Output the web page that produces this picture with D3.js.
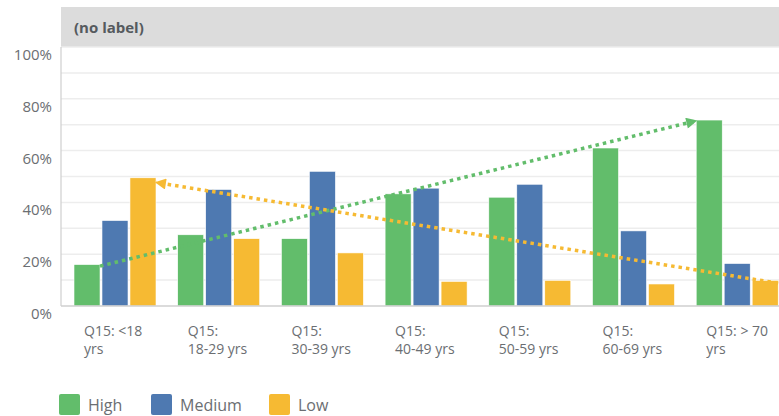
<!doctype html>
<html>
  <head>
    <style>
      body { margin: 0; background: #fff; }
      text { font-family: "Open Sans", sans-serif; }
    </style>
  </head>
  <body>
    <svg width="779" height="416" id="content"></svg>

    <script src="https://cdnjs.cloudflare.com/ajax/libs/d3/7.8.5/d3.min.js"></script>
    <script>
      const categories = [['Q15: <18', 'yrs'], ['Q15:', '18-29 yrs'], ['Q15:', '30-39 yrs'], ['Q15:', '40-49 yrs'],
        ['Q15:', '50-59 yrs'], ['Q15:', '60-69 yrs'], ['Q15: > 70', 'yrs']]
      const series = ['High', 'Medium', 'Low']
      const high = [16, 27.5, 26, 43.3, 42, 61, 71.8]
      const medium = [33, 45, 52, 45.5, 47, 29, 16.4]
      const low = [49.5, 26, 20.5, 9.5, 9.9, 8.5, 9.9]
      const yTicks = [0, 20, 40, 60, 80, 100]
      // trend arrows: [value at start, value at end]
      const highTrend = [15.4, 71.5]
      const lowTrend = [8.8, 47.7]

      const colors = { High: '#62bd6b', Medium: '#4e79b1', Low: '#f6ba33' }
      const values = { High: high, Medium: medium, Low: low }

      const svg = d3.select('#content')
      const plotLeft = 61
      const plotTop = 47
      const plotBottom = 306

      const y = d3.scaleLinear().domain([0, 100]).range([plotBottom, plotTop])
      const x0 = d3.scaleBand().domain(d3.range(categories.length)).range([plotLeft, plotLeft + 7 * 103.7])
      const x1 = d3.scaleBand().domain(series).range([13, 95]).paddingInner(0.07)

      // header
      svg.append('rect')
        .attr('x', plotLeft).attr('y', 7)
        .attr('width', 779 - plotLeft).attr('height', plotTop - 7)
        .style('fill', '#dcdcdc')
      svg.append('text')
        .attr('x', 74).attr('y', 27)
        .style('dominant-baseline', 'central')
        .style('font-size', '15px')
        .style('font-weight', 'bold')
        .style('fill', '#555a5e')
        .text('(no label)')

      // gridlines
      svg.append('g').selectAll('line')
        .data(d3.range(10, 101, 10))
        .enter().append('line')
        .attr('x1', plotLeft).attr('x2', 779)
        .attr('y1', d => y(d)).attr('y2', d => y(d))
        .style('stroke', '#ededed')
        .style('stroke-width', 1.5)

      // y axis labels
      svg.append('g').selectAll('text')
        .data(yTicks)
        .enter().append('text')
        .attr('x', 52).attr('y', d => y(d) + 7)
        .attr('text-anchor', 'end')
        .style('dominant-baseline', 'central')
        .style('font-size', '15px')
        .style('fill', '#6b6e72')
        .text(d => d + '%')

      // bars
      const groups = svg.append('g').selectAll('g')
        .data(categories)
        .enter().append('g')
        .attr('transform', (d, i) => `translate(${x0(i)},0)`)

      groups.selectAll('rect')
        .data((d, i) => series.map(s => ({ s, v: values[s][i] })))
        .enter().append('rect')
        .attr('x', d => x1(d.s))
        .attr('width', x1.bandwidth())
        .attr('y', d => y(d.v))
        .attr('height', d => plotBottom - y(d.v))
        .style('fill', d => colors[d.s])
        .style('stroke', '#fff')
        .style('stroke-width', 0.6)

      // axes lines
      svg.append('line')
        .attr('x1', plotLeft).attr('x2', plotLeft).attr('y1', plotTop).attr('y2', plotBottom)
        .style('stroke', '#cfcfcf').style('stroke-width', 1.2)
      svg.append('line')
        .attr('x1', plotLeft).attr('x2', 779).attr('y1', plotBottom).attr('y2', plotBottom)
        .style('stroke', '#cfcfcf').style('stroke-width', 1.5)

      // x labels
      const xl = svg.append('g').selectAll('text')
        .data(categories)
        .enter().append('text')
        .attr('x', (d, i) => x0(i) + 23)
        .attr('y', 331)
        .style('font-size', '14px')
        .style('fill', '#6b6e72')
      xl.selectAll('tspan')
        .data(d => d)
        .enter().append('tspan')
        .attr('x', function () { return d3.select(this.parentNode).attr('x') })
        .attr('dy', (d, i) => i === 0 ? '0.35em' : 18)
        .text(d => d)

      // trend arrows
      const defs = svg.append('defs')
      function marker (id, color) {
        defs.append('marker')
          .attr('id', id)
          .attr('viewBox', '0 0 10 10')
          .attr('refX', 9).attr('refY', 5)
          .attr('markerWidth', 14).attr('markerHeight', 11)
          .attr('markerUnits', 'userSpaceOnUse')
          .attr('orient', 'auto')
          .append('path')
          .attr('d', 'M0,0 L10,5 L0,10 Z')
          .style('fill', color)
      }
      marker('arrowGreen', colors.High)
      marker('arrowLow', colors.Low)

      const last = categories.length - 1
      svg.append('line')
        .attr('x1', x0(0) + x1('High') + x1.bandwidth())
        .attr('y1', y(highTrend[0]))
        .attr('x2', x0(last) + x1('High'))
        .attr('y2', y(highTrend[1]))
        .style('stroke', colors.High)
        .style('stroke-width', 3.5)
        .style('stroke-dasharray', '3.5,4')
        .attr('marker-end', 'url(#arrowGreen)')

      svg.append('line')
        .attr('x1', x0(last) + x1('Low') + x1.bandwidth())
        .attr('y1', y(lowTrend[0]))
        .attr('x2', x0(0) + x1('Low') + x1.bandwidth())
        .attr('y2', y(lowTrend[1]))
        .style('stroke', colors.Low)
        .style('stroke-width', 3.5)
        .style('stroke-dasharray', '3.5,4')
        .attr('marker-end', 'url(#arrowLow)')

      // legend
      const legend = svg.append('g').selectAll('g')
        .data(series)
        .enter().append('g')
        .attr('transform', (d, i) => `translate(${[59, 151, 269][i]},394)`)
      legend.append('rect')
        .attr('width', 21).attr('height', 21).attr('rx', 2)
        .style('fill', d => colors[d])
      legend.append('text')
        .attr('x', 29).attr('y', 11)
        .style('dominant-baseline', 'central')
        .style('font-size', '16px')
        .style('fill', '#6b6e72')
        .text(d => d)
    </script>
  </body>
</html>
